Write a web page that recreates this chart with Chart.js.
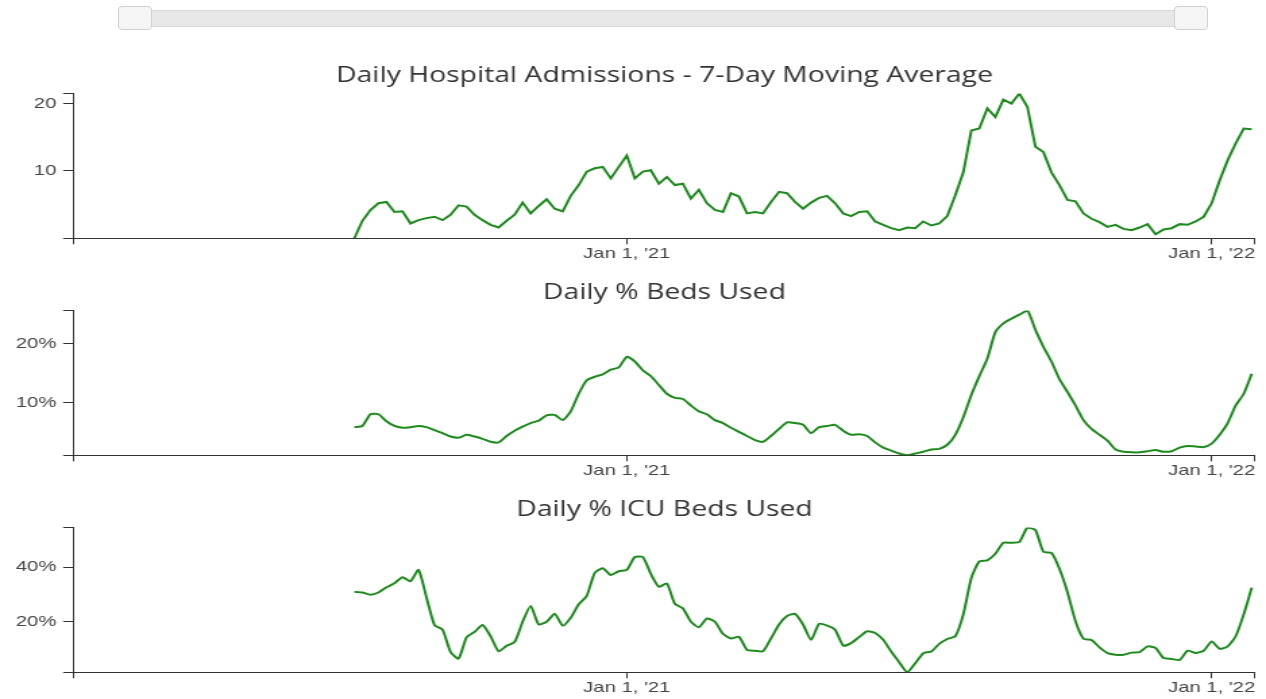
<!DOCTYPE html>
<html>
<head>
<meta charset="utf-8">
<script src="https://cdn.jsdelivr.net/npm/chart.js@4"></script>
<style>
  body { margin: 0; background: #fff; width: 1266px; height: 699px; overflow: hidden; position: relative; }
  .track { position: absolute; left: 118px; top: 10px; width: 1090px; height: 17px; background: #e8e8e8;
           border: 1px solid #d9d9d9; box-sizing: border-box; border-radius: 2px; }
  .handle { position: absolute; top: 6px; width: 34px; height: 24px; background: #f5f5f5;
            border: 1px solid #d0d0d0; box-sizing: border-box; border-radius: 4px; }
  canvas.panel { position: absolute; left: 0; }
</style>
</head>
<body>
<div class="track"></div>
<div class="handle" style="left:118px"></div>
<div class="handle" style="left:1174px"></div>
<canvas id="admits" class="panel" width="938" height="217" style="top:50px;width:1266px;height:217px"></canvas>
<canvas id="beds" class="panel" width="938" height="217" style="top:267px;width:1266px;height:217px"></canvas>
<canvas id="icu" class="panel" width="938" height="217" style="top:484px;width:1266px;height:217px"></canvas>
<script>
// one value every 5 days starting 2020-07-15
const firstDay = '2020-07-15';
const stepDays = 5;
const axisStart = '2020-01-22';
const axisEnd = '2022-01-28';
const xTickDates = ['2021-01-01', '2022-01-01'];
const xTickLabels = ["Jan 1, '21", "Jan 1, '22"];

const admissions = [
  0, 2.6, 4.2, 5.2, 5.4, 3.9, 4.0, 2.2, 2.7, 3.0, 3.2, 2.7, 3.5, 4.9, 4.7, 3.5, 2.7, 2.0, 1.6, 2.6,
  3.5, 5.3, 3.7, 4.8, 5.8, 4.4, 4.0, 6.3, 7.9, 9.9, 10.4, 10.6, 8.9, 10.6, 12.3, 8.9, 9.9, 10.1, 8.1, 9.1,
  7.9, 8.1, 5.9, 7.2, 5.2, 4.2, 3.9, 6.7, 6.2, 3.7, 3.9, 3.7, 5.4, 6.9, 6.7, 5.4, 4.4, 5.3, 6.0, 6.3,
  5.2, 3.7, 3.3, 3.9, 4.0, 2.5, 2.0, 1.5, 1.2, 1.6, 1.5, 2.5, 1.9, 2.2, 3.3, 6.4, 9.8, 16.0, 16.3, 19.3,
  18.0, 20.6, 20.0, 21.5, 19.5, 13.6, 12.8, 9.8, 7.9, 5.7, 5.5, 3.7, 2.9, 2.4, 1.7, 2.0, 1.4, 1.2, 1.6, 2.1,
  0.6, 1.3, 1.5, 2.1, 2.0, 2.5, 3.2, 5.2, 8.6, 11.6, 14.1, 16.3, 16.2
];
const bedsPct = [
  5.8, 6.0, 8.0, 8.0, 6.8, 6.0, 5.7, 5.8, 6.0, 5.8, 5.3, 4.8, 4.2, 4.0, 4.5, 4.2, 3.8, 3.3, 3.2, 4.3,
  5.2, 5.9, 6.5, 6.9, 7.8, 7.9, 7.0, 8.5, 11.5, 13.8, 14.4, 14.8, 15.6, 16.0, 17.8, 17.0, 15.5, 14.5, 13.0, 11.5,
  10.8, 10.6, 9.5, 8.5, 8.0, 7.0, 6.5, 5.7, 5.0, 4.3, 3.6, 3.3, 4.3, 5.5, 6.6, 6.5, 6.2, 4.8, 5.8, 6.0,
  6.2, 5.2, 4.5, 4.6, 4.3, 3.2, 2.3, 1.8, 1.3, 1.0, 1.3, 1.6, 2.0, 2.1, 2.8, 4.5, 7.5, 11.3, 14.5, 17.5,
  22.0, 23.5, 24.3, 25.0, 25.7, 22.4, 19.5, 17.0, 14.0, 11.8, 9.5, 7.0, 5.5, 4.5, 3.5, 2.0, 1.6, 1.5, 1.5, 1.7,
  1.9, 1.6, 1.7, 2.3, 2.6, 2.5, 2.4, 3.0, 4.5, 6.5, 9.5, 11.5, 14.9
];
const icuPct = [
  31.0, 30.7, 29.9, 30.7, 32.6, 34.1, 36.3, 34.8, 39.0, 28.9, 18.8, 17.1, 9.0, 6.5, 14.3, 16.3, 18.8, 14.7, 9.2, 11.2,
  12.6, 20.0, 25.8, 19.0, 20.0, 22.9, 18.6, 21.5, 26.4, 29.5, 37.9, 39.6, 37.1, 38.5, 39.0, 43.7, 43.7, 37.5, 32.8, 34.0,
  26.6, 24.9, 20.0, 18.0, 21.2, 20.0, 15.6, 13.9, 14.5, 9.7, 9.4, 9.2, 13.9, 19.0, 22.1, 22.9, 19.0, 13.4, 19.2, 18.6,
  17.1, 11.3, 12.2, 14.4, 16.5, 15.9, 13.4, 9.1, 5.2, 1.5, 4.8, 8.5, 9.1, 11.9, 13.7, 14.7, 22.7, 36.0, 42.1, 42.5,
  44.9, 48.9, 48.9, 49.2, 54.5, 53.6, 45.6, 45.2, 39.4, 30.8, 20.2, 13.8, 13.3, 10.6, 8.5, 7.9, 7.9, 8.7, 8.9, 11.0,
  10.4, 6.7, 6.4, 6.0, 9.4, 8.6, 9.4, 12.8, 10.1, 11.0, 14.7, 22.7, 32.5
];

const lineColor = '#1d8a1d';
const axisColor = '#333';
const labelColor = '#444';
const tickFont = {family: 'Liberation Sans', size: 15};

// days relative to Jan 1 2021
const dayOf = s => (Date.parse(s + 'T00:00:00Z') - Date.parse('2021-01-01T00:00:00Z')) / 86400000;
const xMin = dayOf(axisStart), xMax = dayOf(axisEnd), startDay = dayOf(firstDay);
const xTickDays = xTickDates.map(dayOf);

function makePanel(id, title, values, yTicks, suffix, tension) {
  const points = values.map((v, i) => ({x: startDay + i * stepDays, y: v}));
  const yMin = Math.min(...values), yMax = Math.max(...values);

  return new Chart(document.getElementById(id), {
    type: 'line',
    data: {
      datasets: [{
        data: points,
        borderColor: lineColor,
        borderWidth: 2,
        pointRadius: 0,
        tension: tension,
        fill: false
      }]
    },
    options: {
      responsive: false,
      animation: false,
      layout: {padding: {right: 8.2}},
      plugins: {
        legend: {display: false},
        tooltip: {enabled: false},
        title: {
          display: true, text: title, fullSize: false, color: '#333',
          font: {family: 'Open Sans', size: 21, weight: 'normal'},
          padding: {top: 13, bottom: 5.3}
        }
      },
      scales: {
        x: {
          type: 'linear', min: xMin, max: xMax,
          afterBuildTicks: s => { s.ticks = [xMin, ...xTickDays, xMax].map(v => ({value: v})); },
          afterFit: s => { s.height = 28.7; },
          ticks: {
            autoSkip: false, maxRotation: 0, padding: 1, color: labelColor, font: tickFont,
            callback: v => { const k = xTickDays.indexOf(v); return k >= 0 ? xTickLabels[k] : ''; }
          },
          grid: {drawOnChartArea: false, drawTicks: true, tickLength: 6, tickColor: axisColor},
          border: {display: true, color: axisColor, width: 1}
        },
        y: {
          min: yMin, max: yMax,
          afterBuildTicks: s => { s.ticks = [yMin, ...yTicks, yMax].map(v => ({value: v})); },
          afterFit: s => { s.width = 54.8; },
          ticks: {
            padding: 5, color: labelColor, font: tickFont,
            callback: v => yTicks.includes(v) ? v + suffix : ''
          },
          grid: {drawOnChartArea: false, drawTicks: true, tickLength: 8, tickColor: axisColor},
          border: {display: true, color: axisColor, width: 1}
        }
      }
    }
  });
}

makePanel('admits', 'Daily Hospital Admissions - 7-Day Moving Average', admissions, [10, 20], '', 0);
makePanel('beds', 'Daily % Beds Used', bedsPct, [10, 20], '%', 0.2);
makePanel('icu', 'Daily % ICU Beds Used', icuPct, [20, 40], '%', 0.2);
</script>
</body>
</html>
